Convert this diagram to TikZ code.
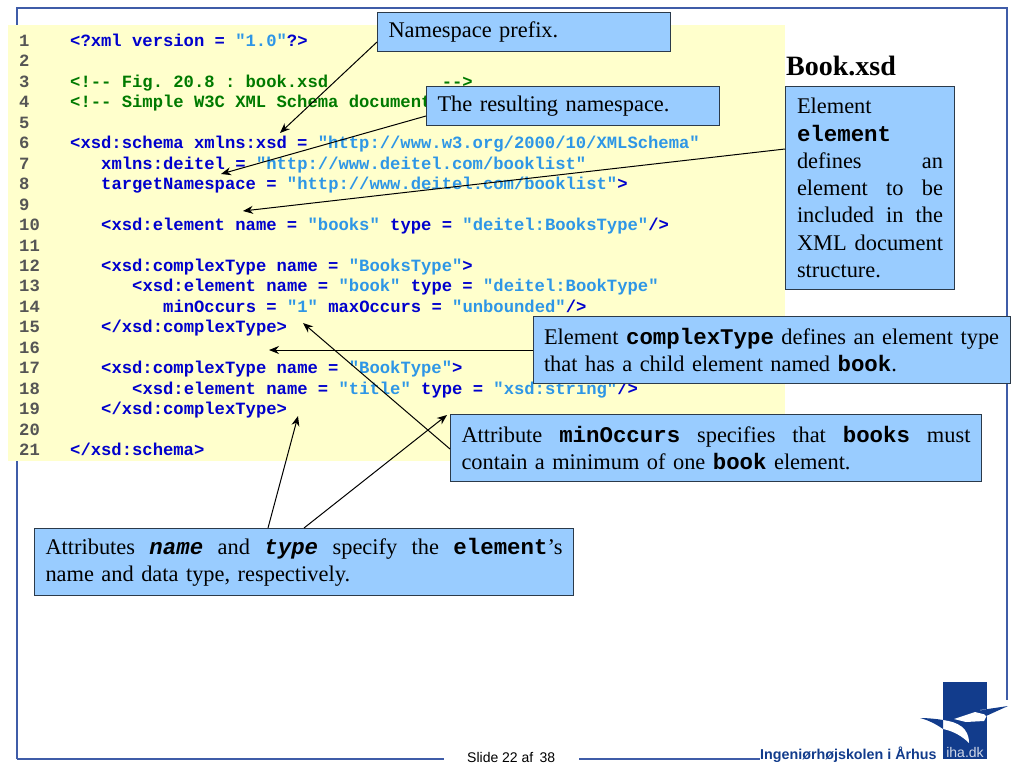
\documentclass[tikz,border=0pt]{standalone}
\usepackage{fontspec}
\setmainfont{Liberation Serif}
\setmonofont{Liberation Mono}
\setsansfont{Liberation Sans}
\usetikzlibrary{arrows.meta}
\definecolor{framec}{HTML}{3F5CA8}
\definecolor{yellowbg}{HTML}{FFFFCC}
\definecolor{boxfill}{HTML}{99CCFF}
\definecolor{boxline}{HTML}{2B3A4A}
\definecolor{kw}{HTML}{0000CC}
\definecolor{str}{HTML}{2E96E6}
\definecolor{com}{HTML}{007A00}
\definecolor{num}{HTML}{555555}
\definecolor{logoblue}{HTML}{123C8C}
\newcommand{\St}[1]{\textcolor{str}{#1}}
\newcommand{\Cm}[1]{\textcolor{com}{#1}}
\newcommand{\Cd}[1]{{\ttfamily\bfseries\fontsize{22.4}{27}\selectfont #1}}
\newcommand{\Cdi}[1]{{\ttfamily\bfseries\itshape\fontsize{22.4}{27}\selectfont #1}}
\newcommand{\Jl}[2]{\leavevmode\hbox to #1pt{#2}}
\tikzset{
  x=1pt,y=-1pt,
  codeline/.style={anchor=base west,inner sep=0pt,font=\ttfamily\bfseries\fontsize{17.2}{20}\selectfont,text=kw},
  numline/.style={anchor=base west,inner sep=0pt,font=\ttfamily\bfseries\fontsize{17.2}{20}\selectfont,text=num},
  callout/.style={draw=boxline,line width=1pt,fill=boxfill,anchor=north west,inner sep=0pt,font=\fontsize{22.4}{27.3}\selectfont,align=left},
  ptr/.style={draw=black,line width=1pt,-{Stealth[length=10pt,width=8pt]}},
}
\newcommand{\Num}[1]{\node[numline] (n#1) at (19,{41+(#1-1)*20.45+5.5}) {#1};}
\newcommand{\Code}[3]{\node[codeline] (c#1) at (#2,{41+(#1-1)*20.45+5.5}) {#3};}
\begin{document}
\begin{tikzpicture}
\useasboundingbox (0,0) rectangle (1024,768);
\fill[white] (0,0) rectangle (1024,768);
% frame
\draw[framec,line width=1.5pt] (17,759) -- (444,759);
\draw[framec,line width=1.5pt] (579,759) -- (760,759);
\draw[framec,line width=1.5pt] (17,759) -- (17,8) -- (1007,8) -- (1007,700);
% code panel
\fill[yellowbg] (8,25) rectangle (785,461);
\foreach \i in {1,...,21}{\Num{\i}}
\Code{1}{70}{<?xml version = \St{"1.0"}?>}
\Code{3}{70}{\Cm{<!-- Fig. 20.8 : book.xsd~~~~~~~~~~~-->}}
\Code{4}{70}{\Cm{<!-- Simple W3C XML Schema document}}
\Code{6}{70}{<xsd:schema xmlns:xsd = \St{"http://www.w3.org/2000/10/XMLSchema"}}
\Code{7}{101}{xmlns:deitel = \St{"http://www.deitel.com/booklist"}}
\Code{8}{101}{targetNamespace = \St{"http://www.deitel.com/booklist"}>}
\Code{10}{101}{<xsd:element name = \St{"books"} type = \St{"deitel:BooksType"}/>}
\Code{12}{101}{<xsd:complexType name = \St{"BooksType"}>}
\Code{13}{132}{<xsd:element name = \St{"book"} type = \St{"deitel:BookType"}}
\Code{14}{163}{minOccurs = \St{"1"} maxOccurs = \St{"unbounded"}/>}
\Code{15}{101}{</xsd:complexType>}
\Code{17}{101}{<xsd:complexType name = \St{"BookType"}>}
\Code{18}{132}{<xsd:element name = \St{"title"} type = \St{"xsd:string"}/>}
\Code{19}{101}{</xsd:complexType>}
\Code{21}{70}{</xsd:schema>}
% title
\node[anchor=base west,inner sep=0pt,font=\bfseries\fontsize{28}{30}\selectfont] (title) at (786,75) {Book.xsd};
% free ends
\coordinate (p1) at (280,133);
\coordinate (p2) at (221,174);
\coordinate (p3) at (243,211);
\coordinate (p4) at (269,350);
\coordinate (p5) at (303,323);
\coordinate (p6) at (447,415);
\coordinate (p7) at (298,416);
% call-outs
\node[callout,minimum width=293pt,minimum height=39pt,text width=271pt] (b1) at (377,12) {Namespace prefix.};
\node[callout,minimum width=293pt,minimum height=39pt,text width=271pt] (b2) at (426,86) {The resulting namespace.};
\node[callout,minimum width=169pt,minimum height=203pt,text width=146pt] (b3) at (785,86) {Element\\\Cd{element}\\\Jl{146}{defines\hfill an}\\\Jl{146}{element\hfill to\hfill be}\\\Jl{146}{included\hfill in\hfill the}\\\Jl{146}{XML\hfill document}\\structure.};
\node[callout,minimum width=477pt,minimum height=67pt,text width=456pt] (b4) at (533,316) {Element \Cd{complexType} defines an element type\\that has a child element named \Cd{book}.};
\node[callout,minimum width=531pt,minimum height=67pt,text width=509pt] (b5) at (450,414) {\Jl{509}{Attribute\hfill\Cd{minOccurs}\hfill specifies\hfill that\hfill\Cd{books}\hfill must}\\contain a minimum of one \Cd{book} element.};
\node[callout,minimum width=539pt,minimum height=67pt,text width=517pt] (b6) at (34,528) {\Jl{517}{Attributes\hfill\Cdi{name}\hfill and\hfill\Cdi{type}\hfill specify\hfill the\hfill\Cd{element}’s}\\name and data type, respectively.};
% connectors
\draw[ptr] (b1.west |- 0,42) -- (p1);
\draw[ptr] (b2.west |- 0,116) -- (p2);
\draw[ptr] (b3.west |- 0,149) -- (p3);
\draw[ptr] (b4.west |- 0,350) -- (p4);
\draw[ptr] (b5.west |- 0,449) -- (p5);
\draw[ptr] (304,0 |- b6.north) -- (p6);
\draw[ptr] (268,0 |- b6.north) -- (p7);
% footer
\node[anchor=base west,inner sep=0pt,font=\sffamily\fontsize{14}{16}\selectfont] (slide) at (467,762) {Slide 22 af\, 38};
\node[anchor=base west,inner sep=0pt,font=\sffamily\bfseries\fontsize{14.3}{16}\selectfont,text=logoblue] (school) at (760,759) {Ingeniørhøjskolen i Århus};
% logo
\fill[logoblue] (943,682) rectangle (987,759);
\fill[white] (943,720) .. controls (958,722) and (969,728) .. (969,743) .. controls (962,736) and (953,731) .. (943,729) -- cycle;
\fill[logoblue] (920,718) .. controls (928,718) and (937,719) .. (943,720) -- (943,729) .. controls (936,724) and (928,720) .. (920,718) -- cycle;
\fill[white] (954,719) -- (975,712) -- (987,715) -- (984,721) -- (966,722) -- cycle;
\fill[white] (980,710) -- (987,709) -- (987,713) -- cycle;
\fill[logoblue] (981,710) -- (1008,706) -- (986,716) -- cycle;
\node[anchor=base,inner sep=0pt,font=\sffamily\fontsize{14}{16}\selectfont,text=white!80!logoblue] (ihadk) at (965,757) {iha.dk};
\end{tikzpicture}
\end{document}
